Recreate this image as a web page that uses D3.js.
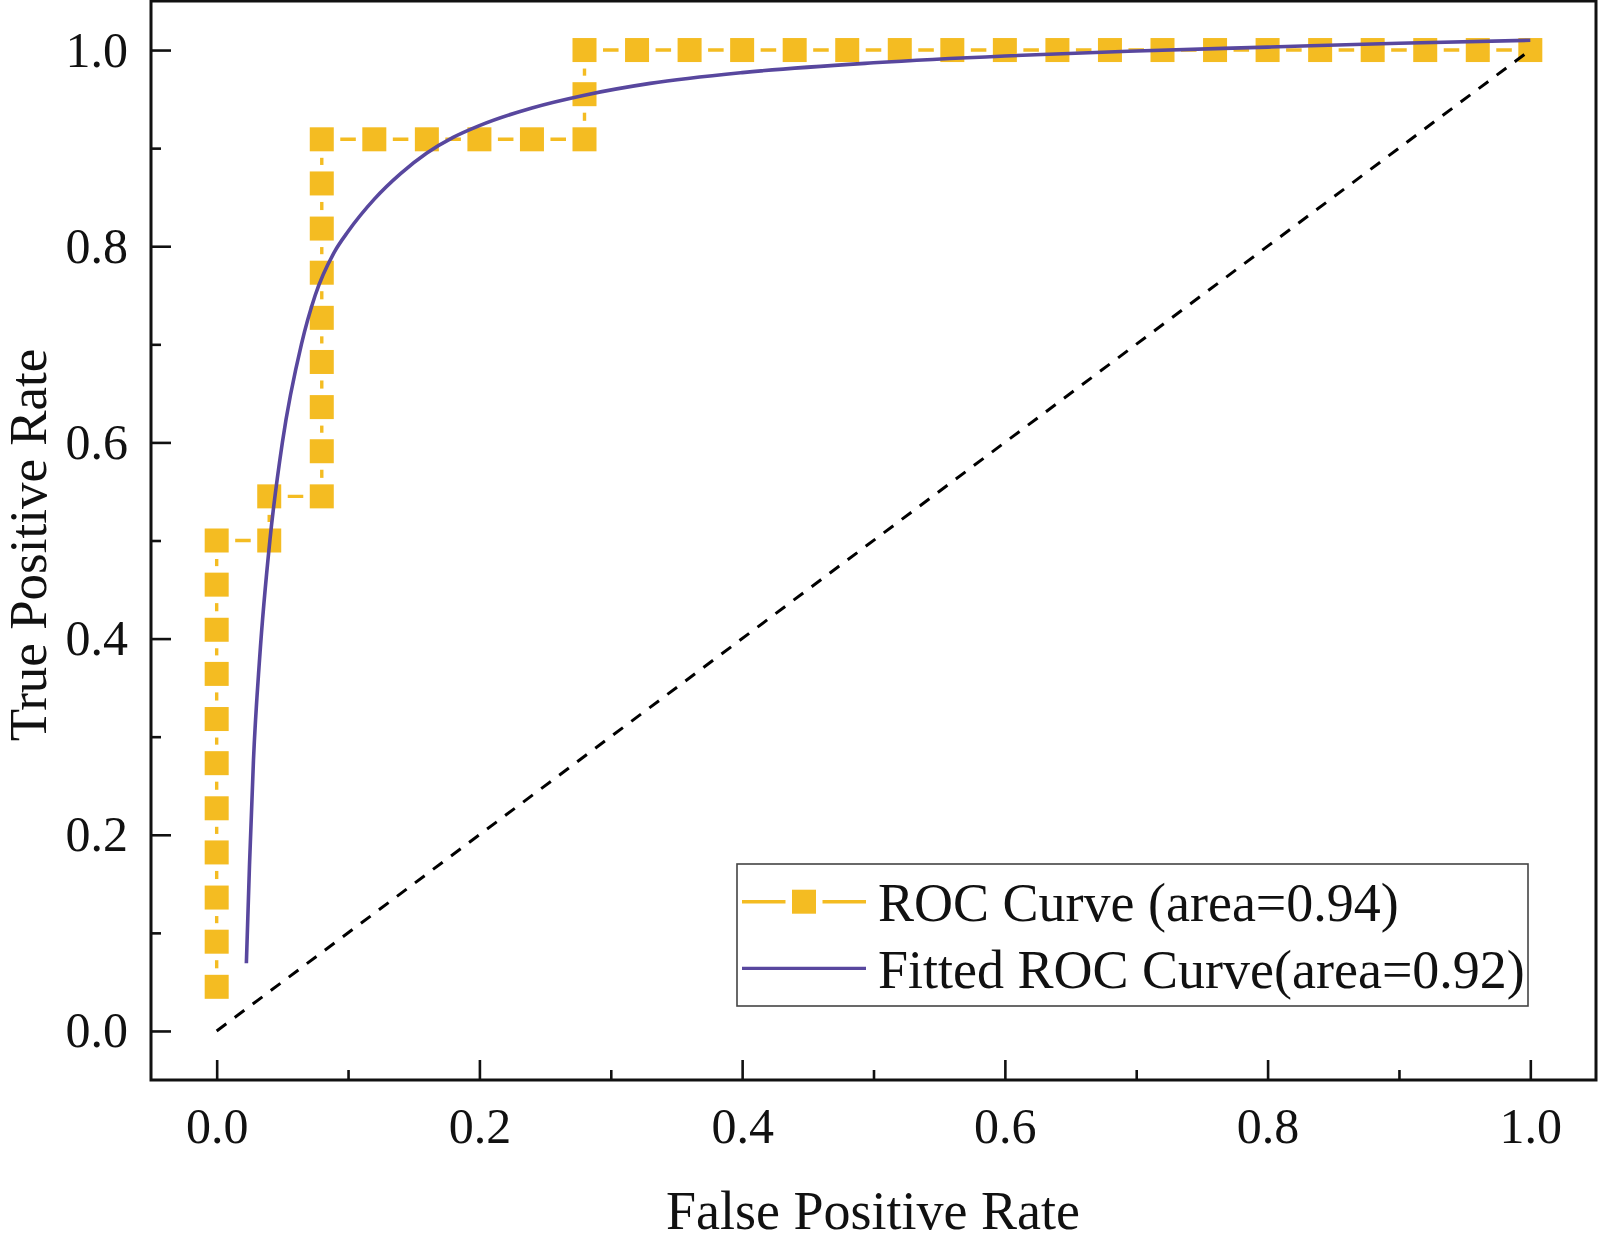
<!DOCTYPE html>
<html>
<head>
<meta charset="utf-8">
<script src="https://cdn.jsdelivr.net/npm/d3@7"></script>
<style>
    body { margin: 0; background: #fff; }
    svg { display: block; }
</style>
</head>
<body>
<div class="chart-container"></div>
<script>
/* global d3 */
(function () {
    'use strict';

    // ROC points (false positive rate, true positive rate)
    var rocFpr = [0, 0, 0, 0, 0, 0, 0, 0, 0, 0, 0,
        0.04, 0.04,
        0.08, 0.08, 0.08, 0.08, 0.08, 0.08, 0.08, 0.08, 0.08,
        0.12, 0.16, 0.20, 0.24, 0.28,
        0.28, 0.28,
        0.32, 0.36, 0.40, 0.44, 0.48, 0.52, 0.56, 0.60, 0.64, 0.68,
        0.72, 0.76, 0.80, 0.84, 0.88, 0.92, 0.96, 1.00];
    var rocTpr = [0.045, 0.091, 0.136, 0.182, 0.227, 0.273, 0.318, 0.364, 0.409, 0.455, 0.5,
        0.5, 0.545,
        0.545, 0.591, 0.636, 0.682, 0.727, 0.773, 0.818, 0.864, 0.909,
        0.909, 0.909, 0.909, 0.909, 0.909,
        0.955, 1.0,
        1.0, 1.0, 1.0, 1.0, 1.0, 1.0, 1.0, 1.0, 1.0, 1.0,
        1.0, 1.0, 1.0, 1.0, 1.0, 1.0, 1.0, 1.0];

    // fitted curve
    var fitFpr = [0.0226, 0.025, 0.028, 0.0327, 0.0405, 0.050, 0.0645, 0.075, 0.09,
        0.10, 0.12, 0.14, 0.16, 0.18, 0.20, 0.24, 0.28, 0.33, 0.40, 0.50, 0.60, 0.70, 0.80, 0.90, 1.00];
    var fitTpr = [0.069, 0.17, 0.276, 0.38, 0.50, 0.60, 0.70, 0.75, 0.795,
        0.815, 0.848, 0.874, 0.895, 0.911, 0.923, 0.941, 0.954, 0.966, 0.977, 0.987, 0.994, 0.999, 1.003, 1.007, 1.010];

    var chanceLine = [0, 1];

    var majorTicks = [0, 0.2, 0.4, 0.6, 0.8, 1.0];
    var minorTicks = [0.1, 0.3, 0.5, 0.7, 0.9];

    var legendLabels = ['ROC Curve (area=0.94)', 'Fitted ROC Curve(area=0.92)'];

    var orange = '#f4bc22';
    var purple = '#58479e';
    var font = '"Liberation Serif", "Times New Roman", serif';

    var svg = d3.select('.chart-container')
        .append('svg')
            .attr('width', 1598)
            .attr('height', 1246);

    var x = d3.scaleLinear().domain([-0.05, 1.05]).range([151, 1596]);
    var y = d3.scaleLinear().domain([-0.05, 1.05]).range([1080, 1]);

    var rocData = rocFpr.map(function (d, i) { return [d, rocTpr[i]]; });
    var fitData = fitFpr.map(function (d, i) { return [d, fitTpr[i]]; });

    var line = d3.line()
        .x(function (d) { return x(d[0]); })
        .y(function (d) { return y(d[1]); });

    var smoothLine = d3.line()
        .curve(d3.curveMonotoneX)
        .x(function (d) { return x(d[0]); })
        .y(function (d) { return y(d[1]); });

    // ROC step line
    svg.append('path')
        .datum(rocData)
        .attr('d', line)
        .attr('fill', 'none')
        .attr('stroke', orange)
        .attr('stroke-width', 3.4);

    // gap around each symbol
    svg.selectAll('.halo')
        .data(rocData)
        .enter().append('rect')
            .attr('class', 'halo')
            .attr('x', function (d) { return x(d[0]) - 18.5; })
            .attr('y', function (d) { return y(d[1]) - 18.5; })
            .attr('width', 37)
            .attr('height', 37)
            .attr('fill', '#fff');

    svg.selectAll('.marker')
        .data(rocData)
        .enter().append('rect')
            .attr('class', 'marker')
            .attr('x', function (d) { return x(d[0]) - 12; })
            .attr('y', function (d) { return y(d[1]) - 12; })
            .attr('width', 24)
            .attr('height', 24)
            .attr('fill', orange);

    // fitted curve
    svg.append('path')
        .datum(fitData)
        .attr('d', smoothLine)
        .attr('fill', 'none')
        .attr('stroke', purple)
        .attr('stroke-width', 3.6);

    // chance diagonal
    svg.append('line')
        .attr('x1', x(chanceLine[0]))
        .attr('y1', y(chanceLine[0]))
        .attr('x2', x(chanceLine[1]))
        .attr('y2', y(chanceLine[1]))
        .attr('stroke', '#000')
        .attr('stroke-width', 3)
        .attr('stroke-dasharray', '12,10.5');

    // axes, ticks pointing inward
    function styleAxis(g) {
        g.select('.domain').remove();
        g.selectAll('line').attr('stroke', '#111').attr('stroke-width', 2.6);
        g.selectAll('text')
            .attr('fill', '#111')
            .attr('font-family', font)
            .attr('font-size', 50);
    }

    svg.append('g')
        .attr('transform', 'translate(0,1080)')
        .call(d3.axisBottom(x).tickValues(majorTicks).tickSizeInner(-20).tickSizeOuter(0)
            .tickPadding(27).tickFormat(d3.format('.1f')))
        .call(styleAxis);
    svg.append('g')
        .attr('transform', 'translate(0,1080)')
        .call(d3.axisBottom(x).tickValues(minorTicks).tickSizeInner(-10).tickSizeOuter(0)
            .tickFormat(''))
        .call(styleAxis);

    svg.append('g')
        .attr('transform', 'translate(151,0)')
        .call(d3.axisLeft(y).tickValues(majorTicks).tickSizeInner(-20).tickSizeOuter(0)
            .tickPadding(23).tickFormat(d3.format('.1f')))
        .call(styleAxis)
        .selectAll('text').attr('dy', '0.32em');
    svg.append('g')
        .attr('transform', 'translate(151,0)')
        .call(d3.axisLeft(y).tickValues(minorTicks).tickSizeInner(-10).tickSizeOuter(0)
            .tickFormat(''))
        .call(styleAxis);

    // frame
    svg.append('rect')
        .attr('x', 151)
        .attr('y', 1)
        .attr('width', 1445)
        .attr('height', 1079)
        .attr('fill', 'none')
        .attr('stroke', '#111')
        .attr('stroke-width', 3);

    // axis titles
    svg.append('text')
        .attr('x', 873)
        .attr('y', 1229)
        .attr('text-anchor', 'middle')
        .attr('font-family', font)
        .attr('font-size', 54)
        .attr('fill', '#111')
        .text('False Positive Rate');

    svg.append('text')
        .attr('transform', 'translate(46,545) rotate(-90)')
        .attr('text-anchor', 'middle')
        .attr('font-family', font)
        .attr('font-size', 53)
        .attr('fill', '#111')
        .text('True Positive Rate');

    // legend
    var legend = svg.append('g');
    legend.append('rect')
        .attr('x', 737)
        .attr('y', 864)
        .attr('width', 791)
        .attr('height', 142)
        .attr('fill', '#fff')
        .attr('stroke', '#444')
        .attr('stroke-width', 1.6);

    legend.append('line')
        .attr('x1', 742).attr('x2', 866)
        .attr('y1', 901.7).attr('y2', 901.7)
        .attr('stroke', orange)
        .attr('stroke-width', 3.4);
    legend.append('rect')
        .attr('x', 804 - 18.5).attr('y', 901.7 - 18.5)
        .attr('width', 37).attr('height', 37)
        .attr('fill', '#fff');
    legend.append('rect')
        .attr('x', 804 - 12).attr('y', 901.7 - 12)
        .attr('width', 24).attr('height', 24)
        .attr('fill', orange);

    legend.append('line')
        .attr('x1', 742).attr('x2', 866)
        .attr('y1', 968.3).attr('y2', 968.3)
        .attr('stroke', purple)
        .attr('stroke-width', 3.2);

    legend.selectAll('.legend-label')
        .data(legendLabels)
        .enter().append('text')
            .attr('class', 'legend-label')
            .attr('x', 878)
            .attr('y', function (d, i) { return i === 0 ? 921 : 987.7; })
            .attr('font-family', font)
            .attr('font-size', 54)
            .attr('fill', '#111')
            .text(function (d) { return d; });
})();
</script>
</body>
</html>
